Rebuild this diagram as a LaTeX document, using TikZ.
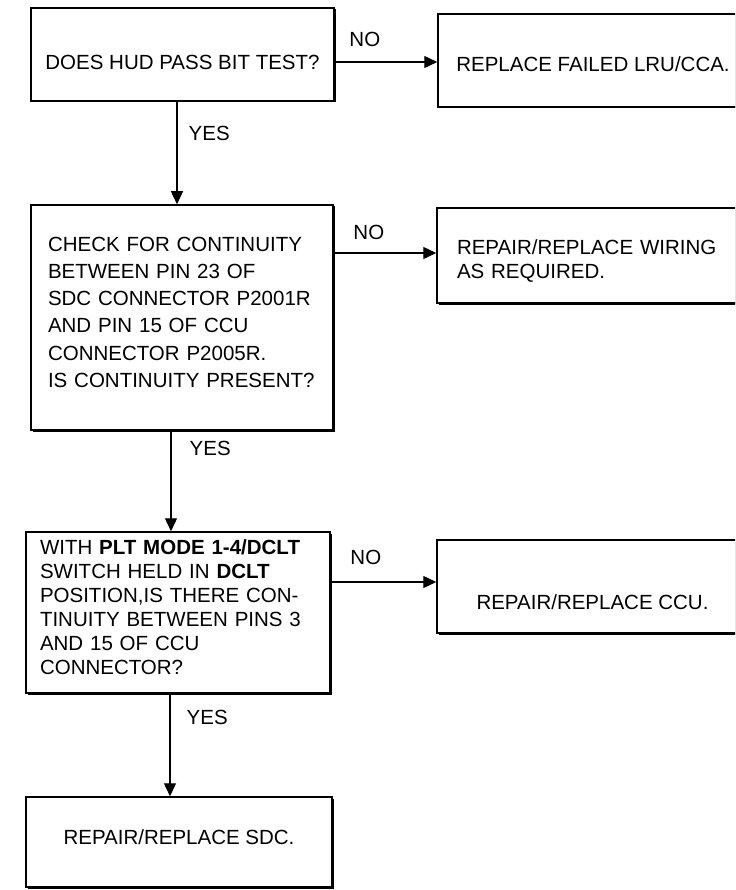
\documentclass[tikz,border=0pt]{standalone}
\usepackage{fontspec}
\setmainfont{Liberation Sans}
\usetikzlibrary{
    arrows.meta,
    positioning,
    shadows
}
\tikzset{
    flowBox/.style={
        rectangle, draw=black, line width=1.5pt, fill=white,
        inner ysep=0pt, text depth=0pt,
        font=\fontsize{20.5}{24}\selectfont,
        drop shadow={shadow xshift=1.5pt, shadow yshift=-1.5pt,
                     fill=black, opacity=1}
    },
    questionBox/.style={
        flowBox, align=left
    },
    actionBox/.style={
        flowBox, align=center
    },
    flowArrow/.style={
        -{Triangle[length=13pt,width=12pt]},
        line width=1.4pt, color=black
    },
    labelYesNo/.style={
        font=\fontsize{20.5}{24}\selectfont,
        inner sep=0pt, text=black
    },
}

\begin{document}
\begin{tikzpicture}[x=1pt, y=1pt]

    % ----------------------------------------------------------
    % PAGE (735 x 890) - right column runs off the edge
    % ----------------------------------------------------------
    \useasboundingbox (0,0) rectangle (735,-890);
    \clip (0,0) rectangle (735,-890);

    % ----------------------------------------------------------
    % LEFT COLUMN - checks
    % ----------------------------------------------------------
    \node[actionBox, minimum width=303pt, minimum height=93pt,
          text height=30.6pt]
          at (182.5, -54.5) (hudTest) {DOES HUD PASS BIT TEST?};
    \node[questionBox, minimum width=302pt, minimum height=225pt,
          text width=268pt, inner xsep=17pt,
          font=\fontsize{20.5}{27.2}\selectfont,
          text height=14.6pt, text depth=147pt]
          at (182, -317.5) (continuity)
          {CHECK FOR CONTINUITY\\
           BETWEEN PIN 23 OF\\
           SDC CONNECTOR P2001R\\
           AND PIN 15 OF CCU\\
           CONNECTOR P2005R.\\
           IS CONTINUITY PRESENT?};
    \node[questionBox, minimum width=304pt, minimum height=161pt,
          text width=276pt, inner xsep=14pt,
          text height=14.6pt, text depth=131pt]
          at (178, -612.5) (dcltSwitch)
          {WITH \textbf{PLT MODE 1-4/DCLT}\\
           SWITCH HELD IN \textbf{DCLT}\\
           POSITION,IS THERE CON-\\
           TINUITY BETWEEN PINS 3\\
           AND 15 OF CCU\\
           CONNECTOR?};
    \node[actionBox, minimum width=306pt, minimum height=90pt,
          text height=14.6pt, text depth=10pt]
          at (179, -842) (repairSdc) {REPAIR/REPLACE SDC.};

    % ----------------------------------------------------------
    % RIGHT COLUMN - repairs
    % ----------------------------------------------------------
    \node[actionBox, minimum width=310pt, minimum height=93pt,
          text height=21.6pt]
          at (593, -60.5) (replaceLru) {REPLACE FAILED LRU/CCA.};
    \node[questionBox, minimum width=311pt, minimum height=95pt,
          text width=271pt, inner xsep=20pt,
          text height=21.6pt, text depth=24pt]
          at (592.5, -255.5) (repairWiring)
          {REPAIR/REPLACE WIRING\\
           AS REQUIRED.};
    \node[actionBox, minimum width=311pt, minimum height=93pt,
          text height=45.6pt]
          at (592.5, -586.5) (repairCcu) {REPAIR/REPLACE CCU.};

    % ----------------------------------------------------------
    % YES - down the left column
    % ----------------------------------------------------------
    \draw[flowArrow] ([xshift=-5.5pt]hudTest.south)
        -- ([xshift=-5pt]continuity.north)
        node[labelYesNo, pos=0.31, anchor=west, xshift=11pt]{YES};
    \draw[flowArrow] ([xshift=-11pt]continuity.south)
        -- ([xshift=-7pt]dcltSwitch.north)
        node[labelYesNo, pos=0.18, anchor=west, xshift=18pt]{YES};
    \draw[flowArrow] ([xshift=-8pt]dcltSwitch.south)
        -- ([xshift=-9pt]repairSdc.north)
        node[labelYesNo, pos=0.23, anchor=west, xshift=16pt]{YES};

    % ----------------------------------------------------------
    % NO - across to the repairs
    % ----------------------------------------------------------
    \draw[flowArrow] ([yshift=-7.5pt]hudTest.east)
        -- ([yshift=-1.5pt]replaceLru.west)
        node[labelYesNo, pos=0, anchor=south west,
             xshift=14pt, yshift=15pt]{NO};
    \draw[flowArrow] ([yshift=64.5pt]continuity.east)
        -- ([yshift=2.5pt]repairWiring.west)
        node[labelYesNo, pos=0, anchor=south west,
             xshift=19pt, yshift=13pt]{NO};
    \draw[flowArrow] ([yshift=30.5pt]dcltSwitch.east)
        -- ([yshift=4.5pt]repairCcu.west)
        node[labelYesNo, pos=0, anchor=south west,
             xshift=19pt, yshift=17pt]{NO};

\end{tikzpicture}
\end{document}
